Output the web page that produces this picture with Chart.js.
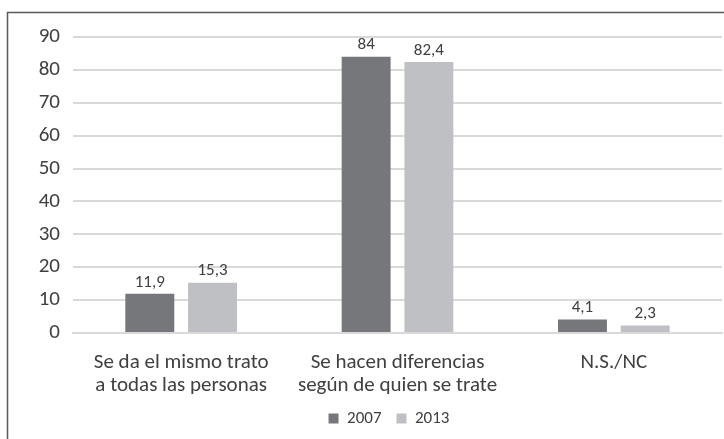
<!DOCTYPE html>
<html>
<head>
<meta charset="utf-8">
<script src="https://cdn.jsdelivr.net/npm/chart.js@4"></script>
<style>
  html, body { margin: 0; padding: 0; background: #fff; }
  #wrap { position: relative; width: 724px; height: 439px; }
</style>
</head>
<body>
<div id="wrap"><canvas id="chart" width="724" height="439"></canvas></div>
<script>
// datos del gráfico
const categorias = [
    ['Se da el mismo trato', 'a todas las personas'],
    ['Se hacen diferencias', 'según de quien se trate'],
    'N.S./NC'
];
const serie2007 = [11.9, 84, 4.1];
const serie2013 = [15.3, 82.4, 2.3];
const ticksY = [0, 10, 20, 30, 40, 50, 60, 70, 80, 90];

const fuente = 'Carlito, "Liberation Sans", sans-serif';

// marco exterior (recortado a la derecha y abajo)
const marco = {
    id: 'marco',
    beforeDraw(chart) {
        const ctx = chart.ctx;
        ctx.save();
        ctx.strokeStyle = '#5a5a5a';
        ctx.lineWidth = 1.5;
        ctx.beginPath();
        ctx.moveTo(7.5, 445);
        ctx.lineTo(7.5, 12.5);
        ctx.lineTo(730, 12.5);
        ctx.stroke();
        ctx.restore();
    }
};

// la leyenda del original está algo desplazada a la derecha
const moverLeyenda = {
    id: 'moverLeyenda',
    afterLayout(chart) {
        if (chart.legend) {
            chart.legend.left += 28;
            chart.legend.right += 28;
        }
    }
};

// etiquetas de valor encima de cada barra
const etiquetas = {
    id: 'etiquetas',
    afterDatasetsDraw(chart) {
        const ctx = chart.ctx;
        ctx.save();
        ctx.font = '17px ' + fuente;
        ctx.fillStyle = '#404040';
        ctx.textAlign = 'center';
        ctx.textBaseline = 'bottom';
        chart.data.datasets.forEach((ds, i) => {
            chart.getDatasetMeta(i).data.forEach((bar, j) => {
                const txt = String(ds.data[j]).replace('.', ',');
                ctx.fillText(txt, bar.x, bar.y - 3);
            });
        });
        ctx.restore();
    }
};

new Chart(document.getElementById('chart').getContext('2d'), {
    type: 'bar',
    data: {
        labels: categorias,
        datasets: [{
            label: '2007',
            data: serie2007,
            backgroundColor: '#76777b'
        }, {
            label: '2013',
            data: serie2013,
            backgroundColor: '#bfc0c4'
        }]
    },
    options: {
        responsive: false,
        animation: false,
        categoryPercentage: 0.58,
        barPercentage: 0.78,
        layout: {
            padding: { top: 37, right: 2, left: 0, bottom: 2 }
        },
        plugins: {
            legend: {
                position: 'bottom',
                labels: {
                    boxWidth: 10,
                    boxHeight: 10,
                    padding: 15,
                    color: '#404040',
                    font: { family: fuente, size: 17 }
                }
            },
            tooltip: { enabled: false }
        },
        scales: {
            x: {
                grid: { display: false },
                border: { color: '#d9d9d9', width: 2 },
                ticks: {
                    color: '#404040',
                    padding: 10,
                    maxRotation: 0,
                    font: { family: fuente, size: 21, lineHeight: 1.1 }
                },
                afterFit(scale) { scale.height = 62; }
            },
            y: {
                min: 0,
                max: 90,
                afterBuildTicks(scale) {
                    scale.ticks = ticksY.map(v => ({ value: v }));
                },
                grid: { color: '#d9d9d9', lineWidth: 2, drawTicks: false },
                border: { display: false },
                ticks: {
                    color: '#404040',
                    padding: 13,
                    font: { family: fuente, size: 21 }
                },
                afterFit(scale) { scale.width = 73; }
            }
        }
    },
    plugins: [marco, moverLeyenda, etiquetas]
});
</script>
</body>
</html>
